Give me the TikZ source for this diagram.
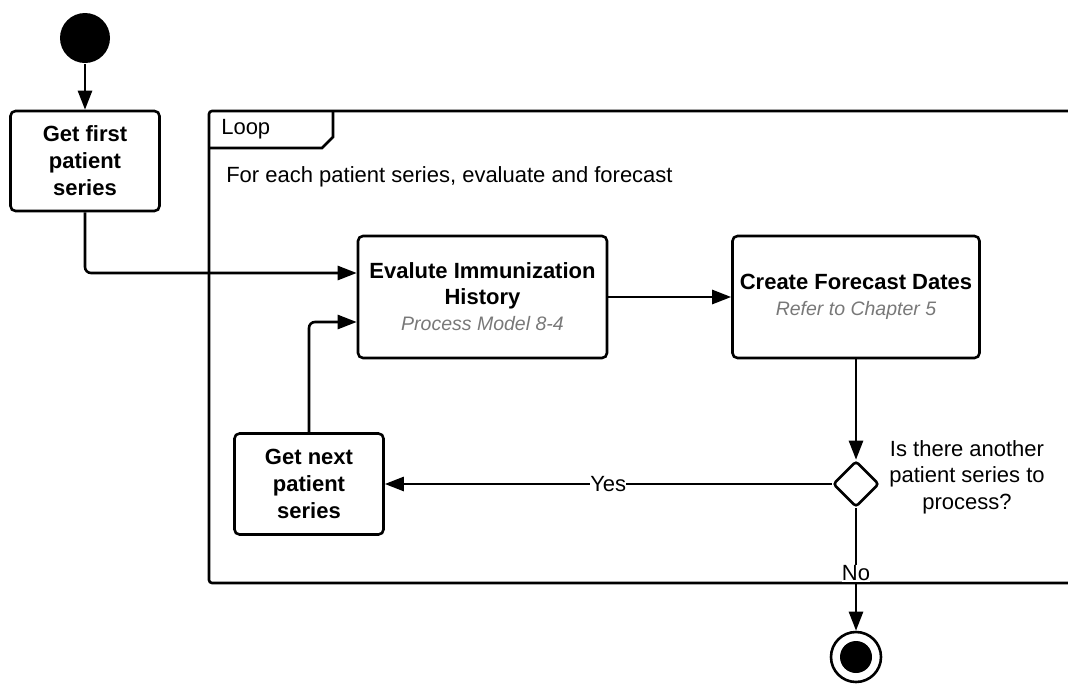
\documentclass[tikz,border=0pt]{standalone}
\usepackage{fontspec}
\setmainfont{Liberation Sans}
\usetikzlibrary{shapes.geometric,arrows.meta,calc}
\definecolor{subgray}{RGB}{120,120,120}
\begin{document}
\begin{tikzpicture}[x=1pt,y=-1pt,
  line width=2.6pt,
  every node/.style={inner sep=0pt, font=\fontsize{22}{26.5}\selectfont},
  act/.style={draw, rounded corners=5pt, align=center, inner sep=0pt,
    font=\fontsize{22}{27}\selectfont\bfseries},
  arr/.style={-{Triangle[length=19pt,width=14pt]}},
  lbl/.style={fill=white, inner xsep=0pt, inner ysep=1pt}
]
\useasboundingbox (0,0) rectangle (1068,683);
\clip (0,0) rectangle (1068,683);

% loop frame
\draw[rounded corners=3pt] (1080,583) -- (209,583) -- (209,111) -- (1080,111);
\draw (209,148) -- (322,148) -- (333,137) -- (333,111);
\node[anchor=base west] (looplbl) at (220,134) {Loop};
\node[anchor=base west] (looptxt) at (225,182) {For each patient series, evaluate and forecast};

% nodes
\node[circle, fill=black, minimum size=50pt] (start) at (85,38) {};
\node[act, minimum width=149pt, minimum height=100pt] (first) at (85,161)
  {Get first\\patient\\series};
\node[act, minimum width=249pt, minimum height=122pt,
  font=\fontsize{22}{26}\selectfont\bfseries] (eval) at (482.5,297)
  {Evalute Immunization\\History\\{\mdseries\itshape\color{subgray}\fontsize{19.5}{25}\selectfont Process Model 8-4}};
\node[act, minimum width=247pt, minimum height=122pt,
  font=\fontsize{22}{26}\selectfont\bfseries] (create) at (856,297)
  {Create Forecast Dates\\{\mdseries\itshape\color{subgray}\fontsize{19.5}{25}\selectfont Refer to Chapter 5}};
\node[act, minimum width=149pt, minimum height=101pt] (next) at (309,484)
  {Get next\\patient\\series};
\node[diamond, draw, rounded corners=3pt, minimum width=46pt, minimum height=46pt] (dec) at (856,484) {};
\node[align=center] (q) at (967,477) {Is there another\\patient series to\\process?};
\node[circle, draw, minimum size=50pt] (end) at (856,657) {};
\node[circle, fill=black, minimum size=32pt] (endin) at (end) {};

% connectors
\draw[arr] (start) -- (first);
\draw[arr, rounded corners=6pt] (first.south) |- ([yshift=24pt]eval.west);
\draw[arr, rounded corners=6pt] (next.north) |- ([yshift=-25pt]eval.west);
\draw[arr] (eval) -- (create);
\draw[arr] (create) -- (dec);
\draw[arr] (dec.west) -- node[lbl] {Yes} (next.east);
\draw[arr] (dec.south) -- node[lbl, pos=0.53] {No} (end.north);
\end{tikzpicture}
\end{document}
